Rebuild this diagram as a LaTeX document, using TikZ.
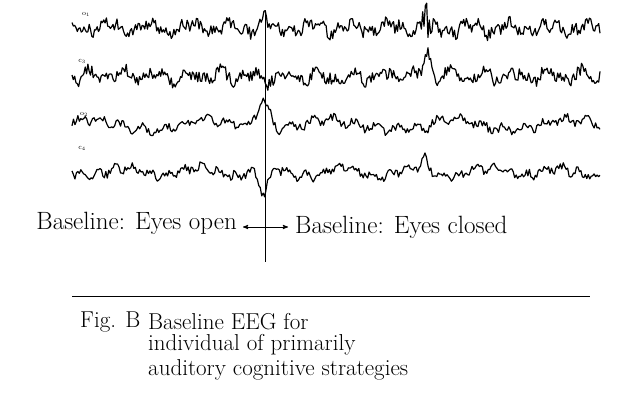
\documentclass[tikz,border=0pt]{standalone}
\usepackage{tikz}
\usetikzlibrary{arrows,positioning}
\begin{document}
\begin{tikzpicture}[x=1pt,y=-1pt,>=stealth',
  trace/.style={line width=1.2pt,line join=round},
  lead/.style={font=\fontsize{7}{7}\selectfont,inner sep=0pt},
  label/.style={font=\fontsize{25}{26}\selectfont,inner sep=0pt,anchor=west},
  caption/.style={font=\fontsize{23}{24}\selectfont,inner sep=0pt,anchor=west}]
  \tikzset{declare function={bump(\a,\c,\w)=max(0,1-abs(\a-\c)/\w);}}
  \useasboundingbox (0,0) rectangle (639,410);
  \pgfmathsetseed{7}
  % four EEG channels
  \draw[trace] plot[domain=72:600,samples=400]
    (\x,{28+4*sin(9*\x)+3*sin(23*\x+40)+6*rand+30*bump(\x,426,8)*rand-10*bump(\x,265,6)});
  \draw[trace] plot[domain=72:600,samples=400]
    (\x,{76+4*sin(11*\x)+3*sin(19*\x+10)+6*rand-26*bump(\x,428,8)+6*bump(\x,265,6)});
  \draw[trace] plot[domain=72:600,samples=360]
    (\x,{125+5*sin(3*\x)+3*sin(17*\x)+4*rand-30*bump(\x,263,14)+10*bump(\x,425,7)});
  \draw[trace] plot[domain=72:600,samples=360]
    (\x,{172+4*sin(5*\x)+3*sin(21*\x)+4*rand+26*bump(\x,264,10)-14*bump(\x,425,7)});
  \node[lead] (o1) at (86,14) {o$_1$};
  \node[lead] (c3) at (82,61) {c$_3$};
  \node[lead] (o2) at (84,114) {o$_2$};
  \node[lead] (c4) at (82,148) {c$_4$};
  % marker and legend
  \coordinate (top) at (265,14);
  \coordinate (bot) at (265,262);
  \draw[line width=1pt] (top) -- (bot);
  \coordinate (mid) at (265,227);
  \coordinate (lt) at (243,227);
  \coordinate (rt) at (288,227);
  \draw[->,line width=0.9pt] (mid) -- (lt);
  \draw[->,line width=0.9pt] (mid) -- (rt);
  \node[label,anchor=east] (open) at (237,223) {Baseline: Eyes open};
  \node[label] (closed) at (295,227) {Baseline: Eyes closed};
  % caption
  \coordinate (ruleL) at (72,296);
  \coordinate (ruleR) at (590,296);
  \draw[line width=0.9pt] (ruleL) -- (ruleR);
  \node[caption] (fig) at (80,322) {Fig. B};
  \node[caption] (cap1) at (148,322) {Baseline EEG for};
  \node[caption] (cap2) [below=4pt of cap1.south west,anchor=north west] {individual of primarily};
  \node[caption] (cap3) [below=4pt of cap2.south west,anchor=north west] {auditory cognitive strategies};
\end{tikzpicture}
\end{document}
